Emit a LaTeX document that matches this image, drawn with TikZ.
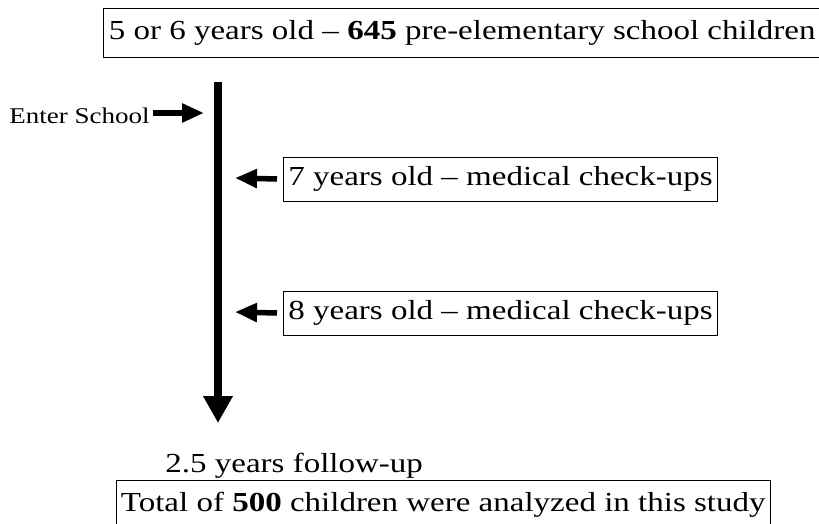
\documentclass[tikz,border=0pt]{standalone}
\usepackage{fontspec}
\setmainfont{Liberation Serif}
\usetikzlibrary{arrows.meta,positioning}
\newcommand{\stretched}[1]{\scalebox{1.2}[1]{#1}}

\begin{document}
\begin{tikzpicture}[x=1pt,y=-1pt,thick]
  \tikzstyle{stage} = [draw,line width=0.8pt,inner xsep=5pt,minimum height=44pt,font=\fontsize{27.5}{30}\selectfont]
  \tikzstyle{label} = [inner sep=0pt,font=\fontsize{27.5}{30}\selectfont]
  \tikzstyle{fatarrow} = [line width=5.5pt,-{Triangle[length=22pt,width=18pt]}]
  \useasboundingbox (0,0) rectangle (819,524);
  %
  % Boxes and labels.
  \node[stage,anchor=north east,minimum height=49pt] (start) at (821,8)
    {\stretched{5 or 6 years old -- \textbf{645} pre-elementary school children}};
  \node[stage,anchor=west] (check7) at (283,179) {\stretched{7 years old -- medical check-ups}};
  \node[stage,anchor=west] (check8) at (283,313) {\stretched{8 years old -- medical check-ups}};
  \node[label,anchor=base west] (follow) at (165,472) {\stretched{2.5 years follow-up}};
  \node[stage,anchor=east,minimum height=50pt] (total) at (771,505)
    {\stretched{Total of \textbf{500} children were analyzed in this study}};
  \node[inner sep=0pt,anchor=base east,font=\fontsize{22.5}{25}\selectfont] (enter) at (150,124)
    {\stretched{Enter School}};

  % Time line.
  \coordinate (tltop) at (218,82);
  \coordinate (tlend) at (218,423);
  \coordinate (in) at (204,113);
  \coordinate (in7) at (235,178);
  \coordinate (in8) at (235,312);
  \draw[line width=7.5pt,-{Triangle[length=27pt,width=28pt]}] (tltop) -- (tlend);
  \draw[fatarrow] ([xshift=3pt]enter.east |- in) -- (in);
  \draw[fatarrow] ([xshift=-6pt]check7.west) -- (in7);
  \draw[fatarrow] ([xshift=-6pt]check8.west) -- (in8);
\end{tikzpicture}
\end{document}
